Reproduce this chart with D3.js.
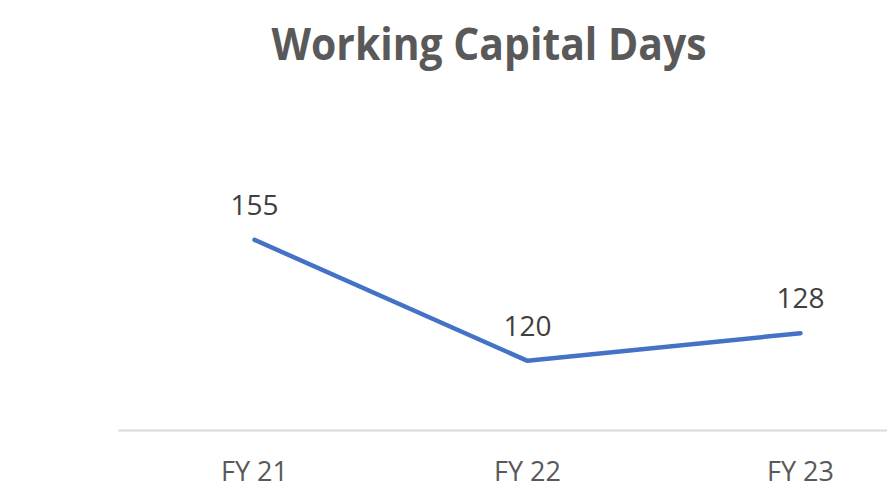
<!DOCTYPE html>
<html>
<head>
<meta charset="utf-8">
<script src="https://cdn.jsdelivr.net/npm/d3@7"></script>
<style>
  body { margin: 0; background: #fff; }
  text { font-family: "Open Sans", "Noto Sans", sans-serif; }
</style>
</head>
<body>
<script>
'use strict';
const categories = ["FY 21", "FY 22", "FY 23"];
const values = [155, 120, 128];
const chartTitle = "Working Capital Days";

(function () {
  const width = 887, height = 495;
  const svg = d3.select('body').append('svg')
    .attr('width', width)
    .attr('height', height);

  // plot area runs past the right edge of the picture (cropped)
  const x = d3.scaleBand().domain(categories).range([118, 937]);
  const y = d3.scaleLinear().domain([100, 180]).range([430, 153.4]);

  svg.append('text')
    .attr('x', 489)
    .attr('y', 60)
    .attr('text-anchor', 'middle')
    .attr('textLength', 435)
    .attr('lengthAdjust', 'spacingAndGlyphs')
    .style('font-size', '44px')
    .style('font-weight', 'bold')
    .style('fill', '#595959')
    .text(chartTitle);

  // baseline
  const xAxis = d3.axisBottom(x).tickSize(0).tickPadding(0);
  const gx = svg.append('g')
    .attr('transform', 'translate(0,430)')
    .call(xAxis);
  gx.select('.domain').attr('stroke', '#d9d9d9').attr('stroke-width', 2);
  gx.selectAll('.tick text')
    .attr('dy', null)
    .attr('y', 51)
    .style('font-size', '27px')
    .style('fill', '#595959')
    .style('font-family', '"Open Sans", "Noto Sans", sans-serif');

  const cx = (d, i) => x(categories[i]) + x.bandwidth() / 2;

  const line = d3.line()
    .x((d, i) => cx(d, i))
    .y((d) => y(d));

  svg.append('path')
    .datum(values)
    .attr('fill', 'none')
    .attr('stroke', '#4472C4')
    .attr('stroke-width', 4.5)
    .attr('stroke-linejoin', 'round')
    .attr('stroke-linecap', 'round')
    .attr('d', line);

  svg.selectAll('.lbl')
    .data(values)
    .enter()
    .append('text')
    .attr('class', 'lbl')
    .attr('x', (d, i) => cx(d, i))
    .attr('y', (d) => y(d) - 25)
    .attr('text-anchor', 'middle')
    .style('font-size', '28px')
    .style('fill', '#404040')
    .text((d) => d);
})();
</script>
</body>
</html>
